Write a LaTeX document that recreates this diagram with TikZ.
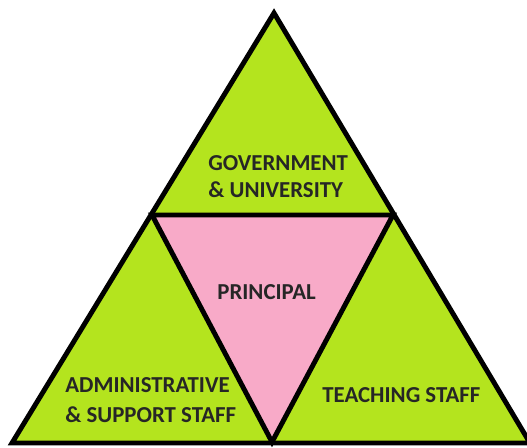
\documentclass[tikz,border=0pt]{standalone}
\usepackage{fontspec}
\setmainfont{Carlito}
\usetikzlibrary{positioning}
\definecolor{lime}{RGB}{180, 228, 30}
\definecolor{blush}{RGB}{248, 170, 200}
\definecolor{ink}{RGB}{38, 38, 38}

\tikzset{label text/.style={color=ink, anchor=base west, inner sep=0pt, font=\fontsize{13}{15}\selectfont\bfseries}}

\begin{document}
\begin{tikzpicture}[x=0.02cm, y=-0.02cm]
            \useasboundingbox                                            (0,0) rectangle (527,447);
            \clip                                                        (0,0) rectangle (527,447);
            \filldraw[color=black, fill=lime,  line width=2.8pt]          (12,443) -- (274,13) -- (530,443) -- cycle;
            \filldraw[color=black, fill=blush, line width=2.8pt]          (152,215) -- (393,215) -- (272,442) -- cycle;
            \node[label text] (gov1)   at (208,170) {GOVERNMENT};
            \node[label text] (gov2)   at (208,197) {\& UNIVERSITY};
            \node[label text] (prin)   at (217,299) {PRINCIPAL};
            \node[label text] (adm1)   at (65,392)  {ADMINISTRATIVE};
            \node[label text] (adm2)   at (65,422)  {\& SUPPORT STAFF};
            \node[label text] (teach)  at (322,402) {TEACHING STAFF};
        \end{tikzpicture}
\end{document}
